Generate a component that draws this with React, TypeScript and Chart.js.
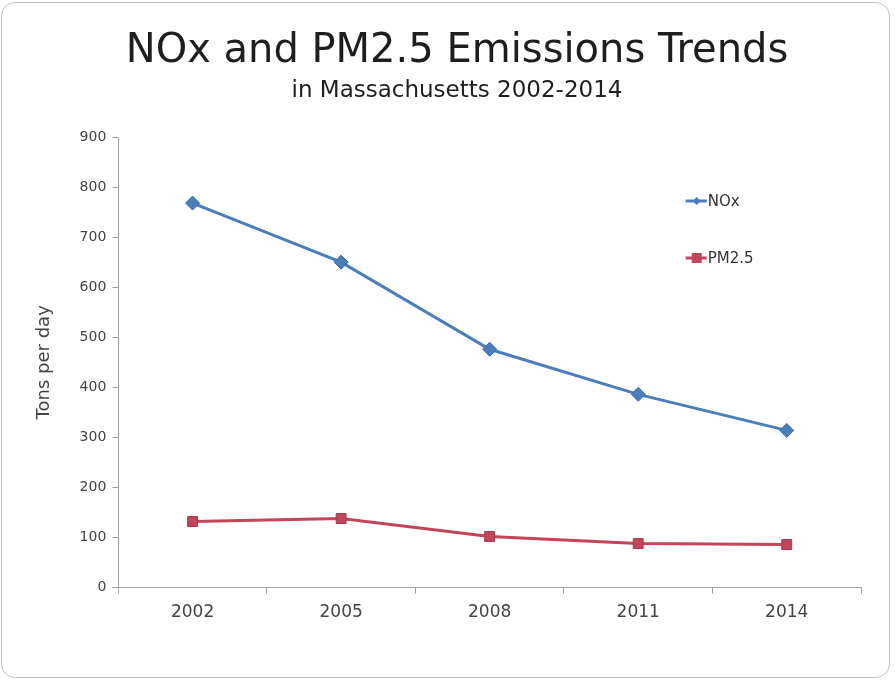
import React, { useEffect, useRef } from "react";
import { Chart, registerables } from "chart.js";

Chart.register(...registerables);

const categories = ["2002", "2005", "2008", "2011", "2014"];
const noxValues = [768, 650, 476, 386, 314];
const pm25Values = [132, 138, 102, 88, 86];
const yTicks = [0, 100, 200, 300, 400, 500, 600, 700, 800, 900];
const titleText = "NOx and PM2.5 Emissions Trends";
const subtitleText = "in Massachusetts 2002-2014";
const yAxisTitle = "Tons per day";

const FONT = "'DejaVu Sans', sans-serif";

const headerPlugin = {
  id: "headerPlugin",
  afterDraw(chart: any) {
    const ctx = chart.ctx;
    ctx.save();
    ctx.fillStyle = "#1e1e1e";
    ctx.textAlign = "center";
    ctx.textBaseline = "alphabetic";
    ctx.font = "40px " + FONT;
    ctx.fillText(titleText, 457, 62);
    ctx.font = "23px " + FONT;
    ctx.fillText(subtitleText, 457, 97);
    ctx.restore();
  },
};

const insideLegend = {
  id: "insideLegend",
  afterDatasetsDraw(chart: any) {
    const ctx = chart.ctx;
    const area = chart.chartArea;
    const x0 = area.left + (area.right - area.left) * 0.764;
    const ys = [area.top + 64, area.top + 121];
    chart.data.datasets.forEach((ds: any, i: number) => {
      const y = ys[i];
      ctx.save();
      ctx.strokeStyle = ds.borderColor;
      ctx.lineWidth = 3;
      ctx.beginPath();
      ctx.moveTo(x0, y);
      ctx.lineTo(x0 + 21, y);
      ctx.stroke();
      ctx.fillStyle = ds.backgroundColor;
      const cx = x0 + 11;
      if (ds.pointStyle === "rectRot") {
        ctx.beginPath();
        ctx.moveTo(cx, y - 4);
        ctx.lineTo(cx + 4, y);
        ctx.lineTo(cx, y + 4);
        ctx.lineTo(cx - 4, y);
        ctx.closePath();
        ctx.fill();
      } else {
        ctx.fillRect(cx - 5, y - 5, 10, 10);
      }
      ctx.fillStyle = "#333";
      ctx.font = "15px " + FONT;
      ctx.textBaseline = "middle";
      ctx.textAlign = "left";
      ctx.fillText(ds.label, x0 + 22, y + 1);
      ctx.restore();
    });
  },
};

export default function App() {
  const canvasRef = useRef<HTMLCanvasElement | null>(null);

  useEffect(() => {
    document.body.style.margin = "0";
    const canvas = canvasRef.current;
    if (!canvas) return;
    const chart = new Chart(canvas, {
      type: "line",
      data: {
        labels: categories,
        datasets: [
          {
            label: "NOx",
            data: noxValues,
            borderColor: "#4a7ebb",
            backgroundColor: "#4a7ebb",
            borderWidth: 3,
            pointStyle: "rectRot",
            pointRadius: 7,
            pointBorderWidth: 1,
            pointBorderColor: "#3c6aa5",
            tension: 0,
          },
          {
            label: "PM2.5",
            data: pm25Values,
            borderColor: "#c2455a",
            backgroundColor: "#c2455a",
            borderWidth: 3,
            pointStyle: "rect",
            pointRadius: 7,
            pointBorderWidth: 1,
            pointBorderColor: "#a8394c",
            tension: 0,
          },
        ],
      },
      options: {
        animation: false,
        responsive: false,
        layout: { padding: { left: 29, right: 35, top: 137, bottom: 48 } },
        plugins: {
          legend: { display: false },
          tooltip: { enabled: false },
          title: { display: false },
        },
        scales: {
          x: {
            offset: true,
            grid: {
              offset: true,
              drawOnChartArea: false,
              drawTicks: true,
              tickLength: 6,
              color: "#a0a0a0",
            },
            border: { color: "#a0a0a0", width: 1 },
            ticks: {
              color: "#444",
              font: { family: FONT, size: 17 },
              padding: 9,
            },
          },
          y: {
            min: 0,
            max: 900,
            afterBuildTicks: (scale: any) => {
              scale.ticks = yTicks.map((v) => ({ value: v }));
            },
            grid: {
              drawOnChartArea: false,
              drawTicks: true,
              tickLength: 6,
              color: "#a0a0a0",
            },
            border: { color: "#a0a0a0", width: 1 },
            ticks: {
              color: "#444",
              font: { family: FONT, size: 14 },
              padding: 6,
            },
            title: {
              display: true,
              text: yAxisTitle,
              color: "#444",
              font: { family: FONT, size: 18 },
              padding: { top: 5, bottom: 18 },
            },
          },
        },
      },
      plugins: [insideLegend, headerPlugin],
    } as any);
    return () => chart.destroy();
  }, []);

  return (
    <div style={{ position: "relative", width: 896, height: 680, background: "#fff" }}>
      <canvas
        ref={canvasRef}
        width={896}
        height={680}
        style={{ position: "absolute", left: 0, top: 0 }}
      />
      <div
        style={{
          position: "absolute",
          left: 1,
          top: 2,
          width: 887,
          height: 674,
          border: "1px solid #c4c4c4",
          borderRadius: 14,
          pointerEvents: "none",
        }}
      />
    </div>
  );
}
